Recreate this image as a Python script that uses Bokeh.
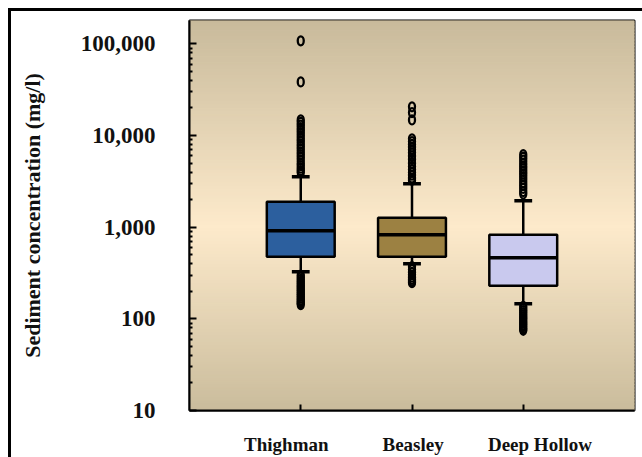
import numpy as np
from bokeh.plotting import figure
from bokeh.models import Range1d, FixedTicker, ColumnDataSource, LinearAxis
from bokeh.layouts import column
from bokeh.embed import file_html
from bokeh.resources import INLINE

# ---------------- data ----------------
sites = ["Thighman", "Beasley", "Deep Hollow"]
site_pos = [1, 2, 3]
site_label_pos = [0.87, 2.01, 3.15]
q1 = [475, 475, 230]
median = [914, 826, 464]
q3 = [1890, 1267, 826]
whisker_low = [326, 399, 146]
whisker_high = [3550, 2975, 1940]
box_colors = ["#2c5f9e", "#9c8142", "#c9c9ee"]

outliers_thighman = [108000, 38500, 14800, 13900, 13000, 12200, 11400, 10700, 10000,
                     9300, 8700, 8100, 7600, 7100, 6600, 6200, 5800, 5400, 5000,
                     4700, 4400, 4150, 3950,
                     300, 285, 270, 257, 245, 233, 222, 212, 202, 193, 184, 176,
                     168, 161, 154, 148, 143]
outliers_beasley = [20600, 17800, 14800, 9200, 8600, 8000, 7500, 7000, 6500, 6000,
                    5500, 5000, 4600, 4250, 3950, 3700, 3450, 3250,
                    370, 345, 322, 302, 285, 270, 258, 248]
outliers_deephollow = [6200, 5800, 5400, 5000, 4650, 4350, 4050, 3800, 3550, 3300,
                       3050, 2850, 2650, 2450, 2300,
                       137, 130, 123, 117, 111, 105, 100, 95, 90, 86, 82, 78, 75]

y_ticks = [10, 100, 1000, 10000, 100000]
y_tick_labels = ["10", "100", "1,000", "10,000", "100,000"]
y_min, y_max = 10, 180000

# ---------------- figure ----------------
p = figure(width=631, height=446, x_range=Range1d(0, 4), y_range=Range1d(y_min, y_max),
           y_axis_type="log", output_backend="svg", toolbar_location=None,
           min_border_left=178, min_border_right=8, min_border_top=9, min_border_bottom=47,
           background_fill_color="#fbe9cc", border_fill_color="white")
p.grid.visible = False
p.outline_line_color = "black"
p.outline_line_width = 2

# background vertical gradient (tan - cream - tan)
top_c = np.array([0xc8, 0xba, 0x9b], dtype=float)
mid_c = np.array([0xfd, 0xea, 0xcb], dtype=float)
bot_c = np.array([0xca, 0xbc, 0x9c], dtype=float)
n = 120
lt, lb = np.log10(y_max), np.log10(y_min)
edges = np.linspace(0, 1, n + 1)
tops, bots, cols = [], [], []
for i in range(n):
    t = (edges[i] + edges[i + 1]) / 2
    if t < 0.53:
        c = top_c + (mid_c - top_c) * (t / 0.53)
    else:
        c = mid_c + (bot_c - mid_c) * ((t - 0.53) / 0.47)
    cols.append("#%02x%02x%02x" % tuple(int(round(v)) for v in c))
    tops.append(10 ** (lt - edges[i] * (lt - lb)))
    bots.append(10 ** (lt - edges[i + 1] * (lt - lb)))
p.quad(left=0, right=4, top=tops, bottom=bots, fill_color=cols, line_color=cols, line_width=1)

# whiskers
p.segment(x0=site_pos, y0=q3, x1=site_pos, y1=whisker_high, line_color="black", line_width=2.5)
p.segment(x0=site_pos, y0=q1, x1=site_pos, y1=whisker_low, line_color="black", line_width=2.5)

# outliers
for xp, vals in zip(site_pos, [outliers_thighman, outliers_beasley, outliers_deephollow]):
    p.ellipse(x=[xp] * len(vals), y=vals, width=6, height=9, width_units="screen",
              height_units="screen", fill_color=None, line_color="black", line_width=2.3)

# caps
cap_w = 0.16
p.segment(x0=[x - cap_w / 2 for x in site_pos], y0=whisker_high,
          x1=[x + cap_w / 2 for x in site_pos], y1=whisker_high, line_color="black", line_width=3.5)
p.segment(x0=[x - cap_w / 2 for x in site_pos], y0=whisker_low,
          x1=[x + cap_w / 2 for x in site_pos], y1=whisker_low, line_color="black", line_width=3.5)

# boxes
box_w = 0.61
src = ColumnDataSource(dict(x=site_pos, q1=q1, q3=q3, med=median, color=box_colors))
p.vbar(x="x", width=box_w, bottom="q1", top="q3", fill_color="color", line_color="black",
       line_width=2.5, source=src)
p.segment(x0=[x - box_w / 2 for x in site_pos], y0=median,
          x1=[x + box_w / 2 for x in site_pos], y1=median, line_color="black", line_width=3.5)

# ---------------- axes ----------------
minor = [k * 10 ** e for e in range(1, 6) for k in range(2, 10)]
p.yaxis.ticker = FixedTicker(ticks=y_ticks, minor_ticks=minor)
p.yaxis.major_label_overrides = dict(zip(y_ticks, y_tick_labels))
p.yaxis.major_tick_in = 7
p.yaxis.major_tick_out = 0
p.yaxis.minor_tick_in = 3
p.yaxis.minor_tick_out = 0
p.yaxis.major_tick_line_width = 2
p.yaxis.minor_tick_line_width = 2
p.yaxis.major_label_standoff = 34
p.yaxis.axis_label = "Sediment concentration (mg/l)"
p.yaxis.axis_label_standoff = 33
p.yaxis.axis_label_text_font = "Liberation Serif"
p.yaxis.axis_label_text_font_style = "bold"
p.yaxis.axis_label_text_font_size = "22px"
p.yaxis.axis_label_text_color = "#111111"
p.yaxis.axis_line_width = 2
p.yaxis.major_label_text_font = "Liberation Serif"
p.yaxis.major_label_text_font_style = "bold"
p.yaxis.major_label_text_color = "#111111"
p.yaxis.major_label_text_font_size = "23px"

# x axis: tick marks at the sites (labels hidden)
p.xaxis.ticker = FixedTicker(ticks=site_pos)
p.xaxis.major_label_overrides = {x: "" for x in site_pos}
p.xaxis.major_label_text_font_size = "0px"
p.xaxis.major_label_standoff = 0
p.xaxis.major_tick_in = 6
p.xaxis.major_tick_out = 0
p.xaxis.major_tick_line_width = 2
p.xaxis.minor_tick_line_color = None
p.xaxis.axis_line_width = 2

# x axis labels (as placed in the original)
lab_ax = LinearAxis(ticker=FixedTicker(ticks=site_label_pos),
                    major_label_overrides=dict(zip(site_label_pos, sites)),
                    axis_line_color=None, major_tick_line_color=None, minor_tick_line_color=None,
                    major_label_standoff=17, major_label_text_font="Liberation Serif",
                    major_label_text_font_style="bold", major_label_text_font_size="19px",
                    major_label_text_color="#111111")
p.add_layout(lab_ax, "below")

layout = column(p, styles={"border-top": "3px solid black", "border-left": "3px solid black",
                           "margin-left": "8px", "margin-top": "8px"})

open("out.html", "w").write(file_html(layout, INLINE))
